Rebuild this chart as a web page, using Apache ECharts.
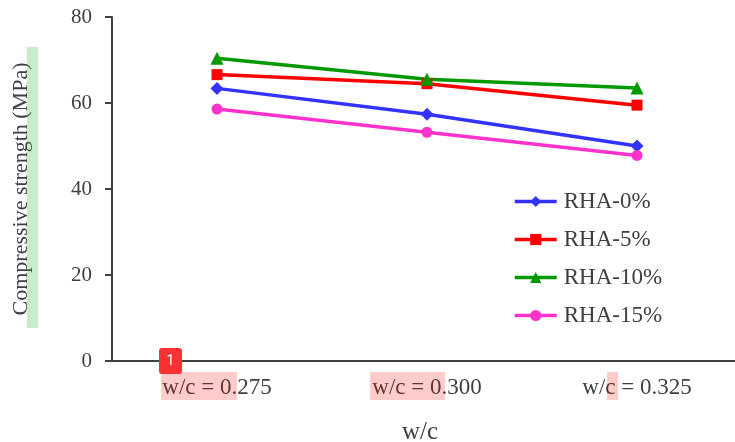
<!DOCTYPE html>
<html><head><meta charset="utf-8">
<style>html,body{margin:0;padding:0;background:#fff}#c{width:735px;height:442px}</style>
<script src="https://cdn.jsdelivr.net/npm/echarts@6/dist/echarts.min.js"></script>
</head><body><div id="c"></div>
<script>
const categories = ['w/c = 0.275','w/c = 0.300','w/c = 0.325'];
const rha0 = [63.4,57.4,50.0];
const rha5 = [66.6,64.5,59.5];
const rha10 = [70.4,65.5,63.5];
const rha15 = [58.6,53.2,47.8];
const yTicks = [0,20,40,60,80];
const font = '"Liberation Serif"';
const ink = '#404040';
const mk = (name,data,color,symbol,size)=>({name,type:'line',data,symbol,symbolSize:size,
  lineStyle:{color,width:3.5},itemStyle:{color},emphasis:{disabled:true}});
const chart = echarts.init(document.getElementById('c'),null,{renderer:'canvas'});
const hl = (x,y,w,h,fill)=>({type:'rect',shape:{x,y,width:w,height:h},style:{fill},z:100,silent:true});
chart.setOption({
  animation:false,backgroundColor:'#fff',
  grid:{left:112,top:17,width:630,height:344,outerBoundsMode:'none'},
  legend:{orient:'vertical',left:508,top:185,itemWidth:42,itemHeight:14,itemGap:15,
    lineStyle:{width:3.5},
    textStyle:{fontFamily:font,fontSize:23,lineHeight:14,color:ink,padding:[0,0,0,2]},
    data:['RHA-0%','RHA-5%','RHA-10%','RHA-15%']},
  xAxis:{type:'category',data:categories,boundaryGap:true,
    name:'w/c',nameLocation:'middle',nameGap:59,
    nameTextStyle:{fontFamily:font,fontSize:25,color:ink,padding:[0,14,0,0]},
    axisLine:{lineStyle:{color:ink,width:2}},
    axisTick:{alignWithLabel:true,length:4,lineStyle:{color:ink,width:1}},
    axisLabel:{fontFamily:font,fontSize:23,color:ink,margin:15}},
  yAxis:{type:'value',min:0,max:80,interval:20,
    name:'Compressive strength (MPa)',nameLocation:'middle',nameGap:80,
    nameTextStyle:{fontFamily:font,fontSize:22,color:ink},
    splitLine:{show:false},
    axisLine:{show:true,lineStyle:{color:ink,width:2}},
    axisTick:{show:true,length:7,lineStyle:{color:ink,width:2}},
    axisLabel:{fontFamily:font,fontSize:21,color:ink,margin:20,
      formatter:v=>yTicks.includes(v)?String(v):''}},
  series:[
    mk('RHA-0%',rha0,'#3333ff','diamond',13),
    mk('RHA-5%',rha5,'#ff0000','rect',11),
    mk('RHA-10%',rha10,'#009900','triangle',13),
    mk('RHA-15%',rha15,'#ff33cc','circle',11)
  ],
  graphic:[
    hl(27,47,11,281,'rgba(60,180,60,0.27)'),
    hl(161,372,76,28,'rgba(255,0,0,0.2)'),
    hl(370,372,75,28,'rgba(255,0,0,0.2)'),
    hl(607,372,11,28,'rgba(255,0,0,0.2)'),
    {type:'rect',shape:{x:159,y:348,width:23,height:26,r:3},style:{fill:'#f83232'},z:101,silent:true},
    {type:'text',x:170.5,y:361,z:102,silent:true,style:{text:'1',fill:'#fff',fontFamily:'Roboto',fontSize:14,align:'center',verticalAlign:'middle'}}
  ]
});
</script></body></html>
